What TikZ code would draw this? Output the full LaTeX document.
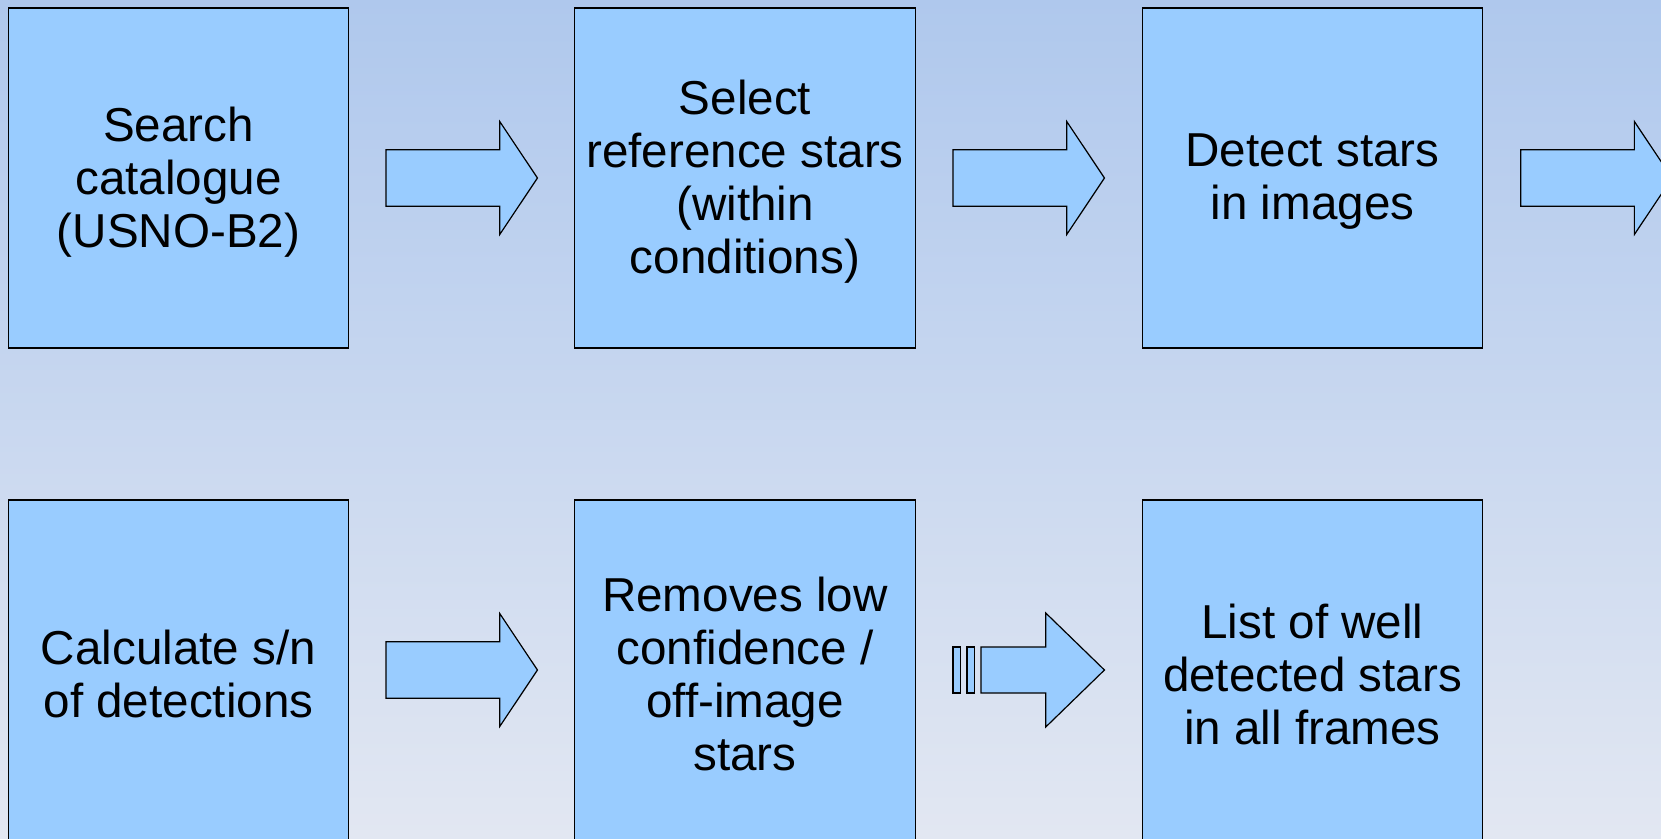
\documentclass[tikz,border=0pt]{standalone}
\usepackage{fontspec}
\setmainfont{Liberation Sans}
\usetikzlibrary{calc}
\definecolor{bgtop}{RGB}{175,200,237}
\definecolor{bgbot}{RGB}{226,231,242}
\definecolor{boxfill}{RGB}{153,204,255}

\tikzset{
  stepbox/.style={draw=black, line width=1.2pt, fill=boxfill,
    minimum width=340.5pt, minimum height=340pt, inner sep=0pt},
  steptext/.style={inner sep=0pt, align=center, yshift=-4pt,
    font=\fontsize{47.6}{53}\selectfont},
  arrowshape/.style={draw=black, line width=1.2pt, fill=boxfill, line join=miter},
  % plain block arrow, centred on its position
  blockarrow/.pic={
    \path[arrowshape] (-75.7,-28.2) -- (38,-28.2) -- (38,-56.5) -- (75.7,0)
      -- (38,56.5) -- (38,28.2) -- (-75.7,28.2) -- cycle;
  },
  % striped block arrow, centred on its position
  stripedarrow/.pic={
    \path[arrowshape] (-75.7,-23) rectangle (-68.3,23);
    \path[arrowshape] (-61.7,-23) rectangle (-54.3,23);
    \path[arrowshape] (-47.7,-23) -- (17,-23) -- (17,-57) -- (75.7,0)
      -- (17,57) -- (17,23) -- (-47.7,23) -- cycle;
  },
}

\begin{document}
\begin{tikzpicture}[x=1pt,y=-1pt]
\useasboundingbox (0,0) rectangle (1661,838);
\clip (0,0) rectangle (1661,838);
\shade[top color=bgtop, bottom color=bgbot] (0,0) rectangle (1661,838);

% top row
\node[stepbox] (s1) at (178.5,178) {};
\node[stepbox] (s2) at (745,178) {};
\node[stepbox] (s3) at (1312.5,178) {};
\node[steptext] (t1) at (s1.center) {Search\\catalogue\\(USNO-B2)};
\node[steptext] (t2) at (s2.center) {Select\\reference stars\\(within\\conditions)};
\node[steptext] (t3) at (s3.center) {Detect stars\\in images};

% bottom row
\node[stepbox] (s4) at (178.5,670) {};
\node[stepbox] (s5) at (745,670) {};
\node[stepbox] (s6) at (1312.5,670) {};
\node[steptext] (t4) at (s4.center) {Calculate s/n\\of detections};
\node[steptext] (t5) at (s5.center) {Removes low\\confidence /\\off-image\\stars};
\node[steptext] (t6) at (s6.center) {List of well\\detected stars\\in all frames};

% arrows between steps
\pic at ($(s1.east)!0.5!(s2.west)$) {blockarrow};
\pic at ($(s2.east)!0.5!(s3.west)$) {blockarrow};
\pic at ($(s3.east)+(113,0)$) {blockarrow};
\pic at ($(s4.east)!0.5!(s5.west)$) {blockarrow};
\pic at ($(s5.east)!0.5!(s6.west)$) {stripedarrow};
\end{tikzpicture}
\end{document}
